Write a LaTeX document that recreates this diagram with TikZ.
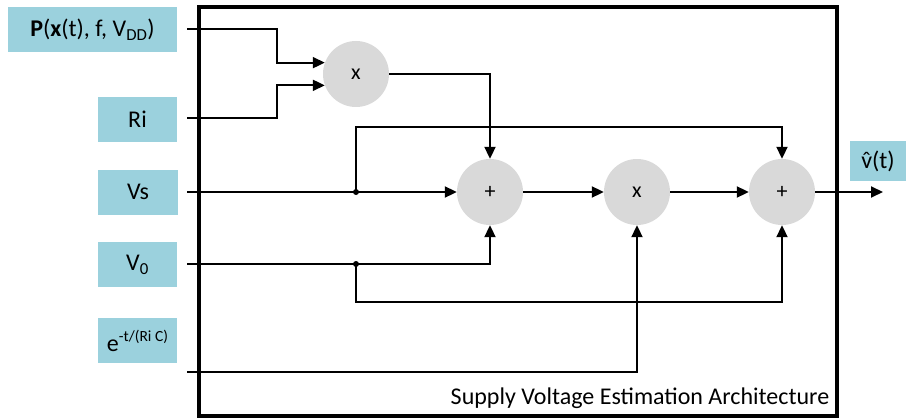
\documentclass[tikz,border=0pt]{standalone}
\usepackage{fontspec}
\setmainfont{Carlito}
\usetikzlibrary{arrows.meta,calc}
\definecolor{lblue}{HTML}{9BD1DD}
\definecolor{cgray}{HTML}{D9D9D9}
\begin{document}
\begin{tikzpicture}[x=1pt,y=-1pt,
  lbl/.style={fill=lblue, minimum height=45pt, inner sep=0pt, font=\fontsize{24}{28}\selectfont},
  op/.style={circle, fill=cgray, minimum size=66pt, inner sep=0pt, font=\fontsize{22}{26}\selectfont},
  wire/.style={line width=2pt},
  arr/.style={wire, -{Triangle[length=12pt,width=11pt]}},
  dotc/.style={circle, fill=black, inner sep=0pt, minimum size=6pt},
]
\useasboundingbox (0,0) rectangle (906,420);
\draw[line width=4pt] (199,7) rectangle (837,416);
% input labels
\node[lbl, minimum width=169pt] (P) at (92.5,29.5) {\textbf{P}(\textbf{x}(t), f, V\textsubscript{DD})};
\node[lbl, minimum width=79pt] (Ri) at (137.5,119.5) {Ri};
\node[lbl, minimum width=80pt] (Vs) at (138,192) {Vs};
\node[lbl, minimum width=79pt] (V0) at (137.5,264.5) {V\textsubscript{0}};
\node[lbl, minimum width=79pt] (E) at (137.5,340.5) {e\raisebox{10pt}{\fontsize{15.5}{16}\selectfont -t/(Ri C)}};
\node[lbl, minimum width=56pt, minimum height=40pt] (vh) at (878,161) {\accent"02C6 v(t)};
% operators
\node[op] (m1) at (356,74) {x};
\node[op] (a1) at (490,192) {+};
\node[op] (m2) at (637,192) {x};
\node[op] (a2) at (782,192) {+};
% wire start points
\coordinate (pS) at (187,29.5);
\coordinate (rS) at (187,118);
\coordinate (vS) at (187,192);
\coordinate (v0S) at (187,264);
\coordinate (eS) at (187,372);
\coordinate (j1) at (356,192);
\coordinate (j2) at (356,264);
\coordinate (t1) at (356,127);
\coordinate (b1) at (356,302);
\coordinate (out) at (883,192);
% wires
\draw[arr] (pS) -- ++(90,0) |- (m1.160);
\draw[arr] (rS) -- ++(90,0) |- (m1.200);
\draw[arr] (m1.east) -| (a1.north);
\draw[arr] (vS) -- (a1.west);
\draw[arr] (j1) -- (t1) -| (a2.north);
\draw[arr] (v0S) -| (a1.south);
\draw[arr] (j2) -- (b1) -| (a2.south);
\draw[arr] (eS) -| (m2.south);
\draw[arr] (a1.east) -- (m2.west);
\draw[arr] (m2.east) -- (a2.west);
\draw[arr] (a2.east) -- (out);
\node[dotc] (d1) at (j1) {};
\node[dotc] (d2) at (j2) {};
\node[font=\fontsize{24}{28}\selectfont] (cap) at (640,398) {Supply Voltage Estimation Architecture};
\end{tikzpicture}
\end{document}
